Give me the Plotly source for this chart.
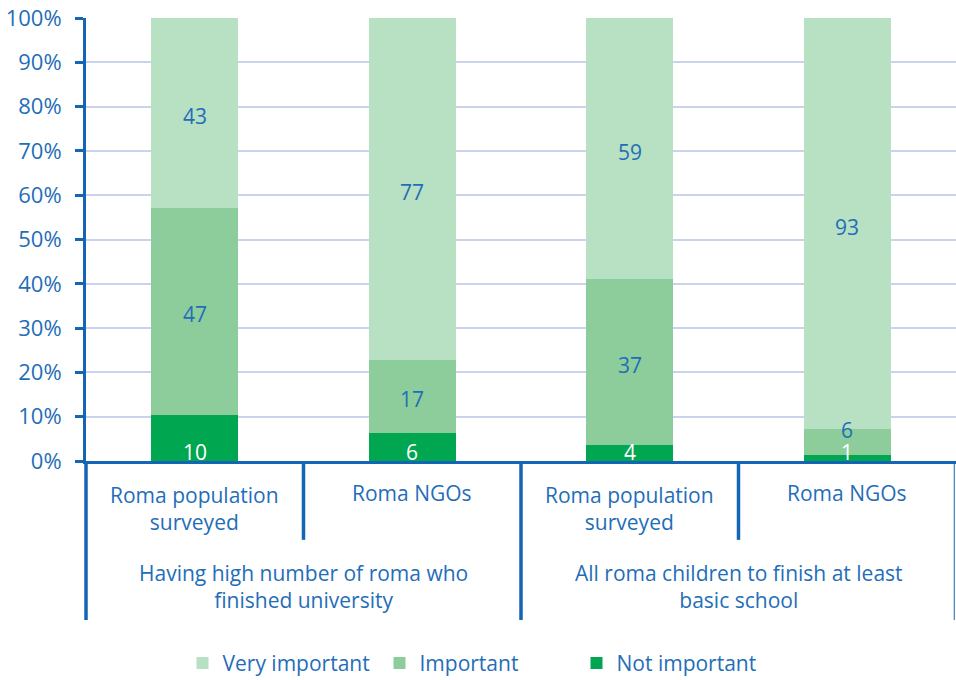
import plotly.graph_objects as go

subgroups = ["Roma population<br>surveyed", "Roma NGOs", "Roma population<br>surveyed", "Roma NGOs"]
groups = ["Having high number of roma who<br>finished university", "All roma children to finish at least<br>basic school"]
not_important = [10.4, 6.3, 3.6, 1.4]
important = [46.7, 16.6, 37.4, 5.8]
very_important = [42.9, 77.1, 59.0, 92.8]
tick_vals = [0, 10, 20, 30, 40, 50, 60, 70, 80, 90, 100]

C_VI = "#B8E0C2"
C_I = "#8DCD9C"
C_NI = "#00A650"
BLUE = "#1F6EB8"
AXIS = "#1565B5"
FONT = "Open Sans"
FS = 21

x = list(range(len(subgroups)))
n = len(subgroups)
fig = go.Figure()
for name, vals, col in [("Not important", not_important, C_NI),
                        ("Important", important, C_I),
                        ("Very important", very_important, C_VI)]:
    fig.add_trace(go.Bar(x=x, y=vals, name=name, marker=dict(color=col, line=dict(width=0)),
                         width=0.4, textposition="none", hoverinfo="skip"))

anns = []
for i in x:
    ni, im, vi = not_important[i], important[i], very_important[i]
    anns.append(dict(x=i, y=0, xref="x", yref="y", text=str(round(ni)), showarrow=False,
                     yanchor="middle", yshift=9, font=dict(color="white", size=FS, family=FONT)))
    c = ni + im / 2
    anns.append(dict(x=i, y=c, xref="x", yref="y", text=str(round(im)), showarrow=False,
                     yanchor="middle", yshift=12 if im < 10 else -3, font=dict(color=BLUE, size=FS, family=FONT)))
    c = ni + im + vi / 2
    anns.append(dict(x=i, y=c, xref="x", yref="y", text=str(round(vi)), showarrow=False,
                     yanchor="middle", yshift=-3, font=dict(color=BLUE, size=FS, family=FONT)))
    anns.append(dict(x=i, y=-0.107 if "<br>" in subgroups[i] else -0.072, xref="x", yref="paper",
                     text=subgroups[i], showarrow=False, yanchor="middle",
                     font=dict(color=BLUE, size=FS, family=FONT)))
for g, name in enumerate(groups):
    anns.append(dict(x=2 * g + 0.5, y=-0.284, xref="x", yref="paper", text=name, showarrow=False,
                     yanchor="middle", font=dict(color=BLUE, size=FS, family=FONT)))

shapes = []
# dividers between categories (index k means boundary before category k)
for k, ybot, w in [(0, -0.359, 3.5), (1, -0.178, 3.5), (2, -0.359, 3.5), (3, -0.178, 3.5), (4, -0.359, 1)]:
    xp = k / n
    if k == n:
        xp = 1 - 0.002
    shapes.append(dict(type="line", xref="paper", yref="paper", x0=xp, x1=xp, y0=0, y1=ybot,
                       line=dict(color=AXIS, width=w)))

fig.update_layout(
    barmode="stack",
    width=956, height=680,
    margin=dict(l=86, r=0, t=18, b=219, autoexpand=False),
    plot_bgcolor="white", paper_bgcolor="white",
    font=dict(family=FONT, color=BLUE, size=FS),
    xaxis=dict(range=[-0.5, n - 0.5], showticklabels=False, showgrid=False, zeroline=False,
               showline=True, linecolor=AXIS, linewidth=3, fixedrange=True),
    yaxis=dict(range=[0, 100], tickvals=tick_vals, ticktext=[f"{v}%" for v in tick_vals],
               showgrid=True, gridcolor="#C9D3EC", gridwidth=2, zeroline=False,
               showline=True, linecolor=AXIS, linewidth=3,
               ticks="outside", ticklen=8, tickwidth=3, tickcolor=AXIS,
               ticklabelstandoff=9,
               tickfont=dict(color=BLUE, size=22, family=FONT)),
    legend=dict(orientation="h", xref="container", x=0.5, xanchor="center", y=-0.457, yanchor="middle",
                traceorder="reversed", font=dict(color=BLUE, size=21, family=FONT),
                itemwidth=30, entrywidth=152, entrywidthmode="pixels"),
    annotations=anns, shapes=shapes,
)
fig.write_html("out.html", config={"displayModeBar": False},
               post_script="document.body.style.margin='0';document.body.style.overflow='hidden';")
